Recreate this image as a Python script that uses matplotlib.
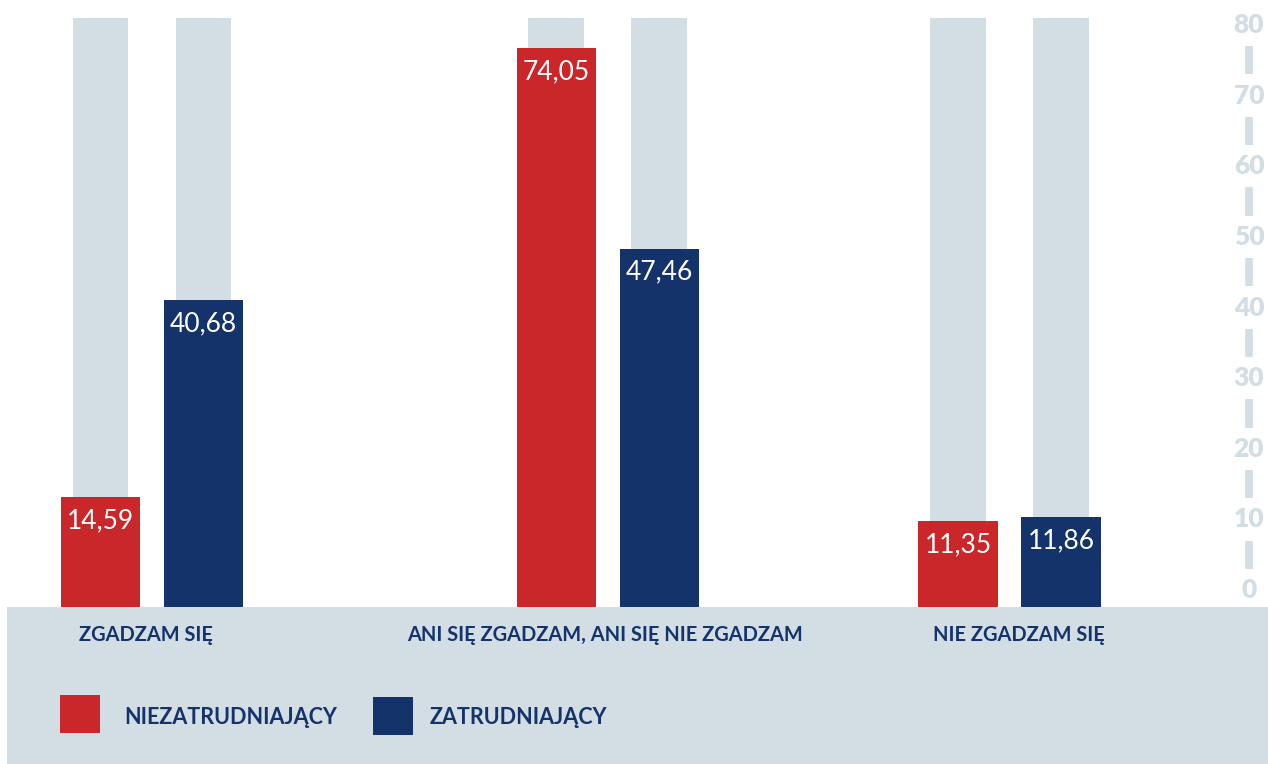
import matplotlib.pyplot as plt
from matplotlib.patches import Rectangle

categories = ["ZGADZAM SIĘ", "ANI SIĘ ZGADZAM, ANI SIĘ NIE ZGADZAM", "NIE ZGADZAM SIĘ"]
series_names = ["NIEZATRUDNIAJĄCY", "ZATRUDNIAJĄCY"]
niezatrudniajacy = [14.59, 74.05, 11.35]
zatrudniajacy = [40.68, 47.46, 11.86]
value_labels_red = ["14,59", "74,05", "11,35"]
value_labels_blue = ["40,68", "47,46", "11,86"]
tick_values = [0, 10, 20, 30, 40, 50, 60, 70, 80]

RED = "#c9272a"
NAVY = "#14336a"
LIGHT = "#d2dde4"

# layout (group centres are not evenly spaced in the original)
group_pos = [0.0, 1.134, 2.133]
label_px = [146, 605, 1019]
offset = 0.128
bar_w = 0.197
bg_w = 0.139

W, H = 1268, 764
fig = plt.figure(figsize=(W / 100, H / 100), dpi=100)
fig.patch.set_facecolor("white")

# bottom band
fig.patches.append(Rectangle((7 / W, 0), 1 - 7 / W, (H - 607) / H,
                             transform=fig.transFigure, facecolor=LIGHT,
                             edgecolor="none", zorder=0))

ax = fig.add_axes([0, (H - 607) / H, 1, (607 - 18) / H])
ax.set_xlim(-152 / 402, (W - 152) / 402)
ymax = 78.0
ax.set_ylim(0, ymax)
ax.axis("off")

for i, g in enumerate(group_pos):
    for sign in (-1, 1):
        ax.bar(g + sign * offset, ymax, width=bg_w, color=LIGHT, zorder=1)

xr = [g - offset for g in group_pos]
xb = [g + offset for g in group_pos]
ax.bar(xr, niezatrudniajacy, width=bar_w, color=RED, zorder=2)
ax.bar(xb, zatrudniajacy, width=bar_w, color=NAVY, zorder=2)

for x, v, s in zip(xr, niezatrudniajacy, value_labels_red):
    ax.annotate(s, (x, v), xytext=(0, -17), textcoords="offset points",
                ha="center", va="center", color="white", fontsize=19,
                family="Lato", zorder=3)
for x, v, s in zip(xb, zatrudniajacy, value_labels_blue):
    ax.annotate(s, (x, v), xytext=(0, -17), textcoords="offset points",
                ha="center", va="center", color="white", fontsize=19,
                family="Lato", zorder=3)

# right scale (slightly offset from bar scale, as in the original)
ax2 = ax.twinx()
ax2.set_ylim(-17 / 7.0625, (590 - 18) / 7.0625)
ax2.axis("off")
tr = ax2.get_yaxis_transform()
tick_x = 1249 / W
for t in tick_values:
    ax2.text(tick_x, t, str(t), transform=tr, ha="center", va="center",
             color=LIGHT, fontsize=19, fontweight="heavy", family="Lato")
for a, b in zip(tick_values[:-1], tick_values[1:]):
    m = (a + b) / 2
    ax2.vlines(tick_x, m - 2.0, m + 2.0, transform=tr, color=LIGHT, lw=5.5)

# category labels
for px, c in zip(label_px, categories):
    fig.text(px / W, 1 - 635 / H, c, ha="center", va="center",
             color=NAVY, fontsize=14.4, fontweight="bold", family="Lato")

# legend
fig.patches.append(Rectangle((60 / W, 1 - 733 / H), 40 / W, 38 / H,
                             transform=fig.transFigure, facecolor=RED,
                             edgecolor="none"))
fig.patches.append(Rectangle((373 / W, 1 - 735 / H), 40 / W, 38 / H,
                             transform=fig.transFigure, facecolor=NAVY,
                             edgecolor="none"))
fig.text(124 / W, 1 - 718 / H, series_names[0], ha="left", va="center",
         color=NAVY, fontsize=15.5, fontweight="bold", family="Lato")
fig.text(430 / W, 1 - 718 / H, series_names[1], ha="left", va="center",
         color=NAVY, fontsize=15.5, fontweight="bold", family="Lato")

fig.savefig("out.png", dpi=100)
